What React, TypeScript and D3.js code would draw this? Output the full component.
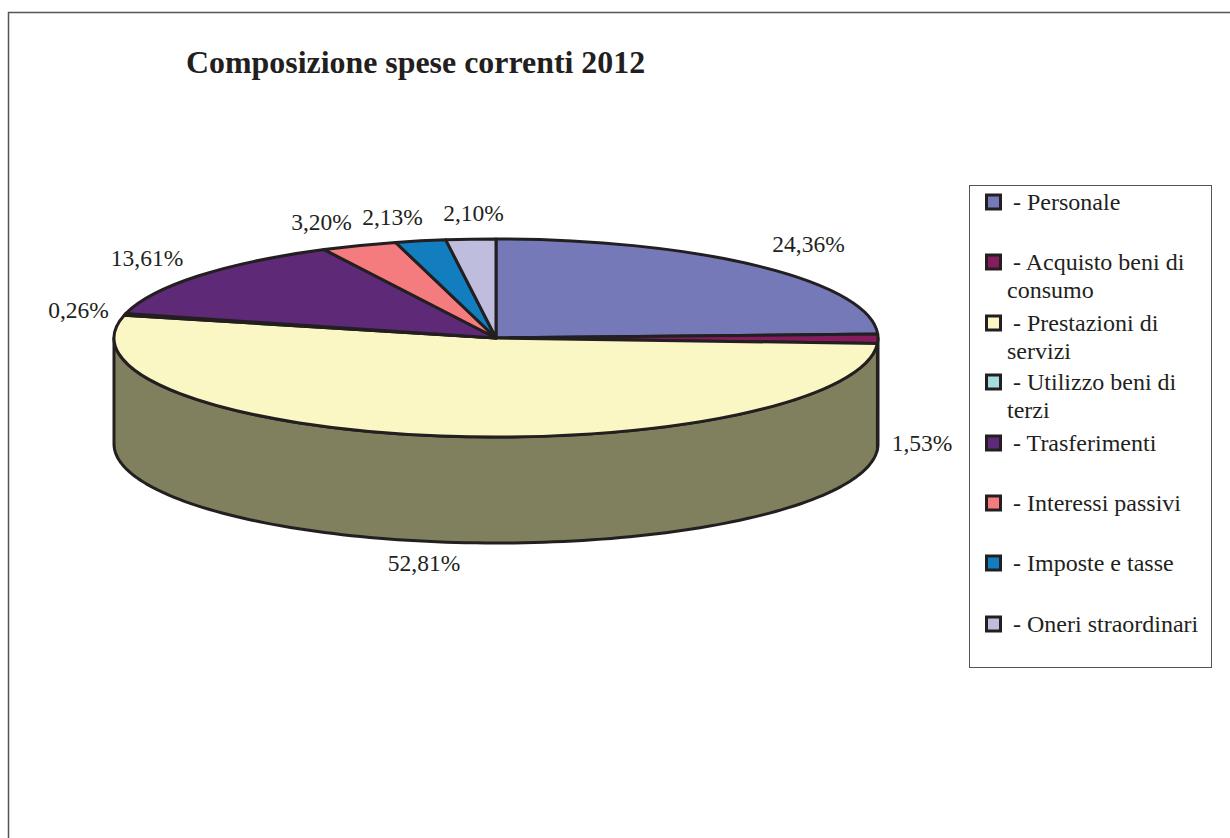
import React from "react";
import * as d3 from "d3";

// Composizione delle spese correnti, esercizio 2012
const categories = [
  "Personale",
  "Acquisto beni di consumo",
  "Prestazioni di servizi",
  "Utilizzo beni di terzi",
  "Trasferimenti",
  "Interessi passivi",
  "Imposte e tasse",
  "Oneri straordinari",
];
const shares = [24.36, 1.53, 52.81, 0.26, 13.61, 3.2, 2.13, 2.1];
const colors = ["#7579B8", "#851C5E", "#FBF7C4", "#A5DCDC", "#5E2A78", "#F47C7E", "#127EC0", "#BFBDDD"];
const legendLines = [
  ["- Personale"],
  ["- Acquisto beni di", "consumo"],
  ["- Prestazioni di", "servizi"],
  ["- Utilizzo beni di", "terzi"],
  ["- Trasferimenti"],
  ["- Interessi passivi"],
  ["- Imposte e tasse"],
  ["- Oneri straordinari"],
];
const legendRowY = [202, 262, 323, 382, 443, 503, 563, 624];
const labelAnchors: [number, number][] = [
  [808.5, 252],
  [922, 451],
  [424, 571],
  [78.5, 318],
  [147, 266],
  [321.5, 230],
  [392.5, 225],
  [473.5, 221],
];

const FONT = '"Liberation Serif", "Times New Roman", serif';
const INK = "#231F20";
const cx = 496;
const cy = 338;
const rx = 382;
const ry = 99;
const depth = 106;

const pie = d3.pie<number>().value((d) => d).sort(null);
const arcs = pie(shares);
const topArc = d3.arc<d3.PieArcDatum<number>>().innerRadius(0).outerRadius(rx);

// Projects a pie angle (clockwise from north) onto the tilted rim.
const rim = (a: number, drop = 0): [number, number] => [
  cx + rx * Math.sin(a),
  cy - ry * Math.cos(a) + drop,
];
const line = d3.line<[number, number]>();

// Wall of one slice, limited to the front half of the rim that faces the viewer.
function wallPath(start: number, end: number): string | null {
  const a0 = Math.max(start, Math.PI / 2);
  const a1 = Math.min(end, (3 * Math.PI) / 2);
  if (a1 <= a0) return null;
  const angles = d3.range(0, 121).map((i) => a0 + ((a1 - a0) * i) / 120);
  const upper = angles.map((a) => rim(a));
  const lower = angles.slice().reverse().map((a) => rim(a, depth));
  return line([...upper, ...lower]) + "Z";
}

function shade(color: string): string {
  const c = d3.rgb(color);
  return d3.rgb(c.r * 0.51, c.g * 0.52, c.b * 0.48).formatHex();
}

export default function App() {
  return (
    <svg
      width={1230}
      height={838}
      viewBox="0 0 1230 838"
      style={{ position: "absolute", left: 0, top: 0, display: "block", background: "#fff" }}
      fontFamily={FONT}
    >
      <path d="M8.5 838V12.5H1230" fill="none" stroke="#555" strokeWidth={1.5} />
      <text x={186} y={73} fontSize={31.9} fontWeight="bold" fill={INK}>
        Composizione spese correnti 2012
      </text>

      {arcs.map((d, i) => {
        const p = wallPath(d.startAngle, d.endAngle);
        return p ? (
          <path key={i} d={p} fill={shade(colors[i])} stroke={INK} strokeWidth={3} strokeLinejoin="round" />
        ) : null;
      })}

      <g transform={`translate(${cx},${cy}) scale(1,${ry / rx})`}>
        {arcs.map((d, i) => (
          <path
            key={i}
            d={topArc(d) ?? ""}
            fill={colors[i]}
            stroke={INK}
            strokeWidth={3}
            strokeLinejoin="round"
            vectorEffect="non-scaling-stroke"
          />
        ))}
      </g>

      <g fontSize={23.5} fill={INK} textAnchor="middle">
        {shares.map((v, i) => (
          <text key={i} x={labelAnchors[i][0]} y={labelAnchors[i][1]}>
            {d3.format(".2f")(v).replace(".", ",")}%
          </text>
        ))}
      </g>

      <rect x={969.5} y={185.5} width={242} height={482} fill="#fff" stroke="#555" strokeWidth={1} />
      {categories.map((name, i) => (
        <g key={name}>
          <rect
            x={986.5}
            y={legendRowY[i] - 7}
            width={14}
            height={14}
            fill={colors[i]}
            stroke={INK}
            strokeWidth={3}
          />
          {legendLines[i].map((t, j) => (
            <text
              key={t}
              x={j === 0 ? 1013 : 1007}
              y={legendRowY[i] + 8 + j * 28}
              fontSize={24}
              fill={INK}
            >
              {t}
            </text>
          ))}
        </g>
      ))}
    </svg>
  );
}
